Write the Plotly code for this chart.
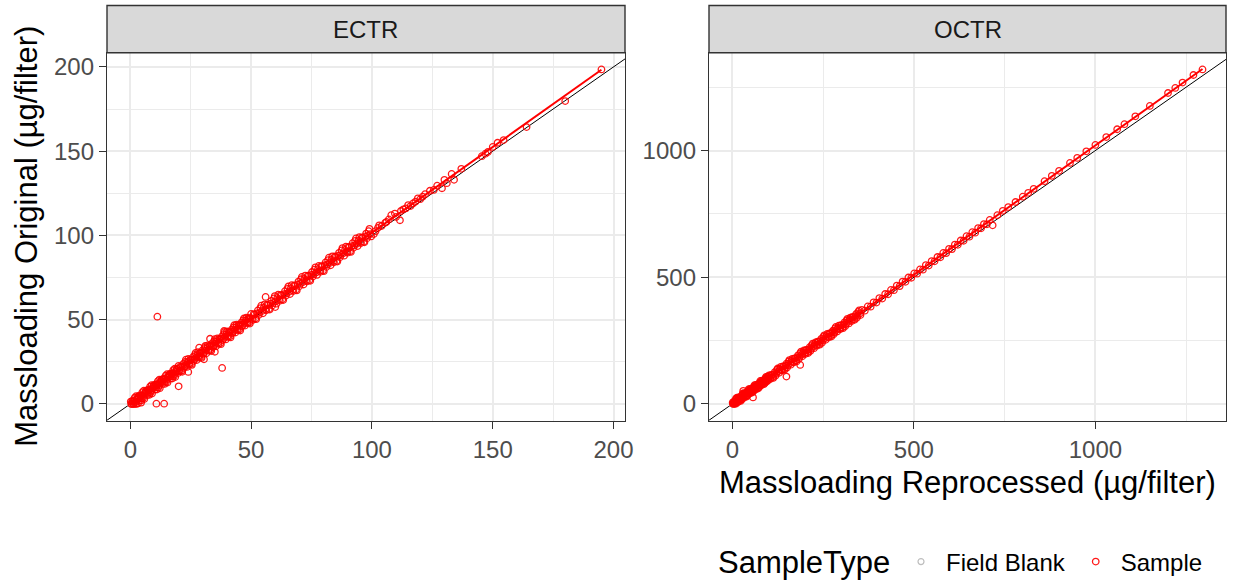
import numpy as np
import plotly.graph_objects as go

# ---------------- data ----------------
PANELS = ["ECTR", "OCTR"]

ECTR_SAMPLE = [
    # 0 - 20
    (0.2, 1.4), (0.6, 0.0), (1.0, 1.3), (1.4, 0.0), (1.8, 3.7), (2.2, 1.3), (2.6, 0.0), (3.0, 3.9),
    (3.4, 4.7), (3.8, 2.1), (4.2, 4.6), (4.6, 2.1), (5.0, 7.0), (5.4, 4.6), (5.8, 2.9), (6.2, 7.1),
    (6.6, 7.9), (7.0, 5.3), (7.4, 7.8), (7.8, 5.4), (8.2, 10.3), (8.6, 7.9), (9.0, 6.2), (9.4, 10.4),
    (9.8, 11.2), (10.2, 8.6), (10.6, 11.1), (11.0, 8.6), (11.4, 13.5), (11.8, 11.1), (12.2, 9.4), (12.6, 13.7),
    (13.0, 14.5), (13.4, 11.9), (13.8, 14.4), (14.2, 11.9), (14.6, 16.8), (15.0, 14.4), (15.4, 12.7), (15.8, 16.9),
    (16.2, 17.7), (16.6, 15.1), (17.0, 17.6), (17.4, 15.1), (17.8, 20.1), (18.2, 17.7), (18.6, 16.0), (19.0, 20.2),
    (19.4, 21.0), (19.8, 18.4),
    # low outliers
    (3.2, 0.3), (4.5, 0.8), (10.8, 0.2), (14.0, 0.2), (20.0, 10.5), (11.2, 51.8),
    # 20 - 50
    (20.0, 22.6), (20.5, 19.3), (21.0, 21.9), (21.5, 19.1), (22.0, 23.8), (22.5, 22.4), (23.0, 26.3), (23.5, 22.0),
    (24.0, 26.7), (24.5, 23.4), (25.0, 26.0), (25.5, 23.2), (26.0, 27.9), (26.5, 26.5), (27.0, 30.3), (27.5, 26.1),
    (28.0, 30.8), (28.5, 27.5), (29.0, 30.1), (29.5, 27.3), (30.0, 32.0), (30.5, 30.5), (31.0, 34.4), (31.5, 30.1),
    (32.0, 34.8), (32.5, 31.6), (33.0, 34.2), (33.5, 31.4), (34.0, 36.1), (34.5, 34.6), (35.0, 38.5), (35.5, 34.2),
    (36.0, 38.9), (36.5, 35.6), (37.0, 38.2), (37.5, 35.5), (38.0, 40.2), (38.5, 38.7), (39.0, 42.6), (39.5, 38.3),
    (40.0, 43.0), (40.5, 39.7), (41.0, 42.3), (41.5, 39.5), (42.0, 44.2), (42.5, 42.8), (43.0, 46.7), (43.5, 42.4),
    (44.0, 47.1), (44.5, 43.8), (45.0, 46.4), (45.5, 43.6), (46.0, 48.3), (46.5, 46.8), (47.0, 50.7), (47.5, 46.5),
    (48.0, 51.2), (48.5, 47.9), (49.0, 50.5), (49.5, 47.7),
    # mid outliers
    (28.5, 33.4), (33.0, 38.7), (38.8, 43.3), (38.0, 21.4), (24.0, 19.0), (30.5, 26.5), (35.0, 31.0),
    # 50 - 100
    (50.0, 53.4), (50.7, 49.9), (51.4, 53.0), (52.1, 50.3), (52.8, 55.5), (53.5, 54.1), (54.2, 58.3), (54.9, 53.8),
    (55.6, 59.1), (56.3, 55.6), (57.0, 58.7), (57.7, 56.0), (58.4, 61.2), (59.1, 59.8), (59.8, 64.0), (60.5, 59.5),
    (61.2, 64.8), (61.9, 61.3), (62.6, 64.4), (63.3, 61.7), (64.0, 66.9), (64.7, 65.5), (65.4, 69.7), (66.1, 65.2),
    (66.8, 70.5), (67.5, 67.0), (68.2, 70.1), (68.9, 67.4), (69.6, 72.6), (70.3, 71.2), (71.0, 75.4), (71.7, 70.9),
    (72.4, 76.2), (73.1, 72.7), (73.8, 75.8), (74.5, 73.1), (75.2, 78.3), (75.9, 76.9), (76.6, 81.1), (77.3, 76.6),
    (78.0, 81.9), (78.7, 78.4), (79.4, 81.5), (80.1, 78.8), (80.8, 84.0), (81.5, 82.6), (82.2, 86.8), (82.9, 82.3),
    (83.6, 87.6), (84.3, 84.1), (85.0, 87.2), (85.7, 84.5), (86.4, 89.7), (87.1, 88.3), (87.8, 92.5), (88.5, 88.0),
    (89.2, 93.3), (89.9, 89.8), (90.6, 92.9), (91.3, 90.2), (92.0, 95.4), (92.7, 94.0), (93.4, 98.2), (94.1, 93.7),
    (94.8, 99.0), (95.5, 95.5), (96.2, 98.6), (96.9, 95.9), (97.6, 101.1), (98.3, 99.7), (99.0, 103.9), (99.7, 99.4),
    (56.0, 63.5), (60.0, 57.5),
    # 100 - 195
    (100.8, 100.8), (101.5, 102.5), (102.5, 104.5), (103.0, 106.0), (104.0, 105.6), (105.5, 107.5), (106.0, 108.0),
    (107.0, 109.5), (108.0, 112.0), (109.5, 113.0), (110.0, 111.0), (111.6, 109.0), (112.0, 114.5), (113.0, 115.5),
    (114.0, 116.0), (115.0, 118.0), (116.0, 117.4), (117.0, 119.0), (118.0, 120.0), (119.0, 122.0), (120.0, 121.5),
    (121.0, 123.0), (122.0, 124.5), (124.0, 126.5), (125.6, 127.0), (127.0, 129.5), (129.0, 128.0), (130.0, 133.0),
    (131.0, 131.0), (133.0, 136.5), (134.0, 133.0), (137.0, 139.5), (145.5, 147.0), (147.0, 148.5), (148.0, 149.5),
    (150.0, 152.5), (152.0, 155.0), (154.5, 156.6), (164.0, 164.3), (180.0, 179.7), (195.0, 198.5),
]

# second lane of the dense ECTR band (0 - 100)
ECTR_SAMPLE_DENSE = [
    (0.4, 0.0), (0.8, 1.8), (1.2, 0.0), (1.6, 1.8), (2.0, 0.0), (2.4, 4.6), (2.8, 2.7), (3.2, 3.9),
    (3.6, 3.2), (4.0, 5.1), (4.4, 3.3), (4.8, 5.1), (5.2, 3.3), (5.6, 7.9), (6.0, 6.0), (6.4, 7.1),
    (6.8, 6.4), (7.2, 8.3), (7.6, 6.5), (8.0, 8.4), (8.4, 6.6), (8.8, 11.2), (9.2, 9.2), (9.6, 10.4),
    (10.0, 9.7), (10.4, 11.6), (10.8, 9.8), (11.2, 11.6), (11.6, 9.8), (12.0, 14.4), (12.4, 12.5), (12.8, 13.6),
    (13.2, 12.9), (13.6, 14.9), (14.0, 13.1), (14.4, 14.9), (14.8, 13.1), (15.2, 17.7), (15.6, 15.7), (16.0, 16.9),
    (16.4, 16.2), (16.8, 18.1), (17.2, 16.3), (17.6, 18.2), (18.0, 16.4), (18.4, 20.9), (18.8, 19.0), (19.2, 20.2),
    (19.6, 19.5),
    (20.25, 19.9), (20.75, 22.2), (21.25, 19.7), (21.75, 22.4), (22.25, 21.5), (22.75, 25.0), (23.25, 23.4), (23.75, 24.9),
    (24.25, 24.0), (24.75, 26.3), (25.25, 23.8), (25.75, 26.5), (26.25, 25.6), (26.75, 29.1), (27.25, 27.5), (27.75, 29.0),
    (28.25, 28.1), (28.75, 30.4), (29.25, 27.9), (29.75, 30.6), (30.25, 29.7), (30.75, 33.2), (31.25, 31.6), (31.75, 33.1),
    (32.25, 32.2), (32.75, 34.5), (33.25, 32.0), (33.75, 34.7), (34.25, 33.8), (34.75, 37.3), (35.25, 35.7), (35.75, 37.2),
    (36.25, 36.3), (36.75, 38.6), (37.25, 36.1), (37.75, 38.8), (38.25, 37.9), (38.75, 41.4), (39.25, 39.8), (39.75, 41.3),
    (40.25, 40.4), (40.75, 42.7), (41.25, 40.2), (41.75, 42.9), (42.25, 42.0), (42.75, 45.5), (43.25, 43.9), (43.75, 45.4),
    (44.25, 44.5), (44.75, 46.8), (45.25, 44.3), (45.75, 47.0), (46.25, 46.1), (46.75, 49.6), (47.25, 48.0), (47.75, 49.5),
    (48.25, 48.6), (48.75, 50.9), (49.25, 48.4), (49.75, 51.1),
    (50.35, 50.5), (51.05, 53.3), (51.75, 50.7), (52.45, 53.8), (53.15, 52.8), (53.85, 56.9), (54.55, 55.2), (55.25, 57.2),
    (55.95, 56.2), (56.65, 59.0), (57.35, 56.4), (58.05, 59.5), (58.75, 58.5), (59.45, 62.6), (60.15, 60.9), (60.85, 62.9),
    (61.55, 61.9), (62.25, 64.7), (62.95, 62.1), (63.65, 65.2), (64.35, 64.2), (65.05, 68.3), (65.75, 66.6), (66.45, 68.6),
    (67.15, 67.6), (67.85, 70.4), (68.55, 67.8), (69.25, 70.9), (69.95, 69.9), (70.65, 74.0), (71.35, 72.3), (72.05, 74.3),
    (72.75, 73.3), (73.45, 76.1), (74.15, 73.5), (74.85, 76.6), (75.55, 75.6), (76.25, 79.7), (76.95, 78.0), (77.65, 80.0),
    (78.35, 79.0), (79.05, 81.8), (79.75, 79.2), (80.45, 82.3), (81.15, 81.3), (81.85, 85.4), (82.55, 83.7), (83.25, 85.7),
    (83.95, 84.7), (84.65, 87.5), (85.35, 84.9), (86.05, 88.0), (86.75, 87.0), (87.45, 91.1), (88.15, 89.4), (88.85, 91.4),
    (89.55, 90.4), (90.25, 93.2), (90.95, 90.6), (91.65, 93.7), (92.35, 92.7), (93.05, 96.8), (93.75, 95.1), (94.45, 97.1),
    (95.15, 96.1), (95.85, 98.9), (96.55, 96.3), (97.25, 99.4), (97.95, 98.4), (98.65, 102.5), (99.35, 100.8),
]

OCTR_SAMPLE = [
    # 0 - 100
    (1, 6), (3, 1), (5, 7), (7, 2), (9, 15), (11, 8), (13, 25), (15, 7),
    (17, 26), (19, 12), (21, 23), (23, 12), (25, 32), (27, 25), (29, 42), (31, 24),
    (33, 43), (35, 29), (37, 40), (39, 29), (41, 48), (43, 41), (45, 58), (47, 40),
    (49, 59), (51, 45), (53, 56), (55, 45), (57, 64), (59, 57), (61, 74), (63, 56),
    (65, 75), (67, 61), (69, 72), (71, 61), (73, 80), (75, 74), (77, 91), (79, 73),
    (81, 92), (83, 78), (85, 89), (87, 78), (89, 97), (91, 90), (93, 107), (95, 89),
    (97, 108), (99, 94),
    # low outliers
    (30, 52), (57, 26), (149, 108), (187, 154), (10, 22),
    # 100 - 355
    (101, 113), (105, 99), (109, 114), (113, 103), (117, 126), (121, 119), (125, 140), (129, 123),
    (133, 146), (137, 132), (141, 147), (145, 136), (149, 159), (153, 152), (157, 173), (161, 155),
    (165, 178), (169, 164), (173, 179), (177, 168), (181, 192), (185, 185), (189, 206), (193, 188),
    (197, 211), (201, 197), (205, 212), (209, 201), (213, 224), (217, 217), (221, 238), (225, 220),
    (229, 243), (233, 230), (237, 245), (241, 234), (245, 257), (249, 250), (253, 271), (257, 253),
    (261, 276), (265, 262), (269, 277), (273, 266), (277, 289), (281, 282), (285, 304), (289, 286),
    (293, 309), (297, 295), (301, 310), (305, 299), (309, 322), (313, 315), (317, 336), (321, 318),
    (325, 341), (329, 327), (333, 342), (337, 332), (341, 355), (345, 348), (349, 369), (353, 351),
    # 355 - 720
    (357, 371), (365, 368), (373, 385), (381, 384), (389, 401), (397, 400), (405, 418), (413, 416),
    (421, 434), (429, 433), (437, 450), (445, 449), (453, 467), (461, 465), (469, 483), (477, 482),
    (485, 499), (493, 498), (501, 515), (509, 514), (517, 531), (525, 530), (533, 548), (541, 546),
    (549, 564), (557, 563), (565, 580), (573, 579), (581, 596), (589, 595), (597, 612), (605, 611),
    (613, 629), (621, 628), (629, 645), (637, 644), (645, 662), (653, 660), (661, 678), (669, 676),
    (677, 694), (685, 693), (693, 710), (701, 709), (709, 726), (717, 705),
    # 720 - 1295
    (730, 745), (745, 762), (760, 777), (780, 797), (800, 818), (815, 833), (830, 849), (860, 879),
    (880, 900), (900, 920), (930, 951), (950, 971), (975, 997), (1000, 1022), (1030, 1053), (1060, 1084),
    (1080, 1104), (1110, 1135), (1150, 1176), (1200, 1227), (1220, 1247), (1240, 1268), (1270, 1298), (1295, 1320),
]

# second lane of the dense OCTR band (0 - 350)
OCTR_SAMPLE_DENSE = [
    (2, 0), (4, 9), (6, 0), (8, 9), (10, 1), (12, 20), (14, 13), (16, 19),
    (18, 16), (20, 25), (22, 16), (24, 26), (26, 18), (28, 37), (30, 30), (32, 36),
    (34, 33), (36, 42), (38, 33), (40, 42), (42, 34), (44, 53), (46, 46), (48, 52),
    (50, 49), (52, 58), (54, 49), (56, 58), (58, 50), (60, 69), (62, 62), (64, 68),
    (66, 65), (68, 74), (70, 65), (72, 74), (74, 66), (76, 85), (78, 79), (80, 85),
    (82, 82), (84, 91), (86, 82), (88, 91), (90, 83), (92, 102), (94, 95), (96, 101),
    (98, 98), (100, 107),
    (103, 102), (107, 115), (111, 106), (115, 118), (119, 111), (123, 135), (127, 129), (131, 138),
    (135, 135), (139, 148), (143, 139), (147, 151), (151, 144), (155, 167), (159, 161), (163, 170),
    (167, 167), (171, 180), (175, 172), (179, 184), (183, 177), (187, 200), (191, 194), (195, 203),
    (199, 200), (203, 213), (207, 204), (211, 216), (215, 209), (219, 232), (223, 226), (227, 236),
    (231, 233), (235, 246), (239, 237), (243, 249), (247, 242), (251, 265), (255, 259), (259, 268),
    (263, 265), (267, 278), (271, 269), (275, 282), (279, 275), (283, 298), (287, 292), (291, 301),
    (295, 298), (299, 311), (303, 302), (307, 314), (311, 307), (315, 330), (319, 324), (323, 334),
    (327, 331), (331, 344), (335, 335), (339, 347), (343, 340), (347, 363), (351, 357),
]

ECTR_BLANK = [(0.2, 0.1), (0.5, 0.4), (0.1, 0.3), (0.8, 0.6)]
OCTR_BLANK = [(1, 1), (2, 3), (0.5, 2), (3, 2)]

ECTR_TICKS = [0, 50, 100, 150, 200]
OCTR_TICKS = [0, 500, 1000]

X_TITLE = "Massloading Reprocessed (\u00b5g/filter)"
Y_TITLE = "Massloading Original (\u00b5g/filter)"
LEGEND_TITLE = "SampleType"

# ---------------- styling / layout ----------------
W, H = 1233, 584
FONT = "Liberation Sans, Arial, sans-serif"
RED = "rgba(255,0,0,0.9)"
GREY = "#BEBEBE"
DARK = "#333333"
GRID = "#EBEBEB"


def px_x(p):
    return p / W


def px_y(p):
    return 1 - p / H


DOMAINS = [(px_x(107), px_x(625)), (px_x(709), px_x(1226))]
Y_DOM = (px_y(420.7), px_y(52.7))
STRIP = (px_y(52.7), px_y(5.5))

data = {
    "ECTR": {"Sample": ECTR_SAMPLE + ECTR_SAMPLE_DENSE, "Field Blank": ECTR_BLANK, "ticks": ECTR_TICKS},
    "OCTR": {"Sample": OCTR_SAMPLE + OCTR_SAMPLE_DENSE, "Field Blank": OCTR_BLANK, "ticks": OCTR_TICKS},
}

fig = go.Figure()
layout_axes = {}
annotations = []
shapes = []

for i, panel in enumerate(PANELS):
    xa = "x" if i == 0 else f"x{i+1}"
    ya = "y" if i == 0 else f"y{i+1}"
    d = data[panel]
    sx, sy = zip(*d["Sample"])
    bx, by = zip(*d["Field Blank"])
    allx = list(sx) + list(bx)
    ally = list(sy) + list(by)

    # identity line (clipped to the panel)
    big = max(max(allx), max(ally)) * 2
    fig.add_trace(go.Scatter(x=[-big, big], y=[-big, big], mode="lines",
                             line=dict(color="black", width=1), xaxis=xa, yaxis=ya,
                             showlegend=False, hoverinfo="skip"))
    # points
    fig.add_trace(go.Scatter(x=bx, y=by, mode="markers", name="Field Blank",
                             legendgroup="fb", showlegend=(i == 0),
                             marker=dict(symbol="circle-open", size=6, color=GREY, line=dict(width=1.2)),
                             xaxis=xa, yaxis=ya))
    fig.add_trace(go.Scatter(x=sx, y=sy, mode="markers", name="Sample",
                             legendgroup="s", showlegend=(i == 0),
                             marker=dict(symbol="circle-open", size=6.5, color=RED, line=dict(width=1.3)),
                             xaxis=xa, yaxis=ya))
    # linear fit
    slope, icpt = np.polyfit(np.array(sx), np.array(sy), 1)
    fx = np.array([min(sx), max(sx)])
    fig.add_trace(go.Scatter(x=fx, y=slope * fx + icpt, mode="lines",
                             line=dict(color="red", width=2), xaxis=xa, yaxis=ya,
                             showlegend=False, hoverinfo="skip"))

    xr = [min(allx), max(allx)]
    yr = [min(ally), max(ally)]
    xs, ys = xr[1] - xr[0], yr[1] - yr[0]
    xrange = [xr[0] - 0.05 * xs, xr[1] + 0.05 * xs]
    yrange = [yr[0] - 0.05 * ys, yr[1] + 0.05 * ys]
    ticks = d["ticks"]
    minor = (ticks[1] - ticks[0]) / 2

    common = dict(showgrid=True, gridcolor=GRID, gridwidth=1.6, zeroline=False,
                  showline=True, mirror=True, linecolor=DARK, linewidth=1.4,
                  ticks="outside", ticklen=7, tickwidth=1.4, tickcolor=DARK,
                  tickfont=dict(family=FONT, size=24, color="#4D4D4D"),
                  tickvals=ticks, ticktext=[str(t) for t in ticks],
                  minor=dict(dtick=minor, tick0=0, showgrid=True, gridcolor=GRID, gridwidth=0.8))
    layout_axes["xaxis" if i == 0 else f"xaxis{i+1}"] = dict(
        domain=list(DOMAINS[i]), anchor=ya, range=xrange, **common)
    layout_axes["yaxis" if i == 0 else f"yaxis{i+1}"] = dict(
        domain=list(Y_DOM), anchor=xa, range=yrange, **common)

    shapes.append(dict(type="rect", xref="paper", yref="paper",
                       x0=DOMAINS[i][0], x1=DOMAINS[i][1], y0=STRIP[0], y1=STRIP[1],
                       fillcolor="#D9D9D9", line=dict(color=DARK, width=1.4)))
    annotations.append(dict(text=panel, xref="paper", yref="paper",
                            x=(DOMAINS[i][0] + DOMAINS[i][1]) / 2, y=(STRIP[0] + STRIP[1]) / 2,
                            xanchor="center", yanchor="middle", showarrow=False,
                            font=dict(family=FONT, size=24, color="#1A1A1A")))

annotations.append(dict(text=Y_TITLE, xref="paper", yref="paper",
                        x=px_x(27), y=(Y_DOM[0] + Y_DOM[1]) / 2, textangle=-90,
                        xanchor="center", yanchor="middle", showarrow=False,
                        font=dict(family=FONT, size=31, color="black")))
annotations.append(dict(text=X_TITLE, xref="paper", yref="paper",
                        x=(DOMAINS[1][0] + DOMAINS[1][1]) / 2, y=px_y(482),
                        xanchor="center", yanchor="middle", showarrow=False,
                        font=dict(family=FONT, size=31, color="black")))
# legend title
annotations.append(dict(text=LEGEND_TITLE, xref="paper", yref="paper",
                        x=px_x(716), y=px_y(562), xanchor="left", yanchor="middle",
                        showarrow=False, font=dict(family=FONT, size=31, color="black")))

fig.update_layout(
    width=W, height=H, autosize=False,
    margin=dict(l=0, r=0, t=0, b=0, autoexpand=False),
    paper_bgcolor="white", plot_bgcolor="white",
    font=dict(family=FONT, color="black"),
    shapes=shapes, annotations=annotations,
    legend=dict(orientation="h", x=px_x(896), xanchor="left", y=px_y(562), yanchor="middle",
                itemwidth=40,
                font=dict(family=FONT, size=24, color="black"),
                bgcolor="rgba(0,0,0,0)"),
    **layout_axes,
)

fig.write_html("out.html", config={"displayModeBar": False},
               post_script="document.body.style.margin='0px';")
